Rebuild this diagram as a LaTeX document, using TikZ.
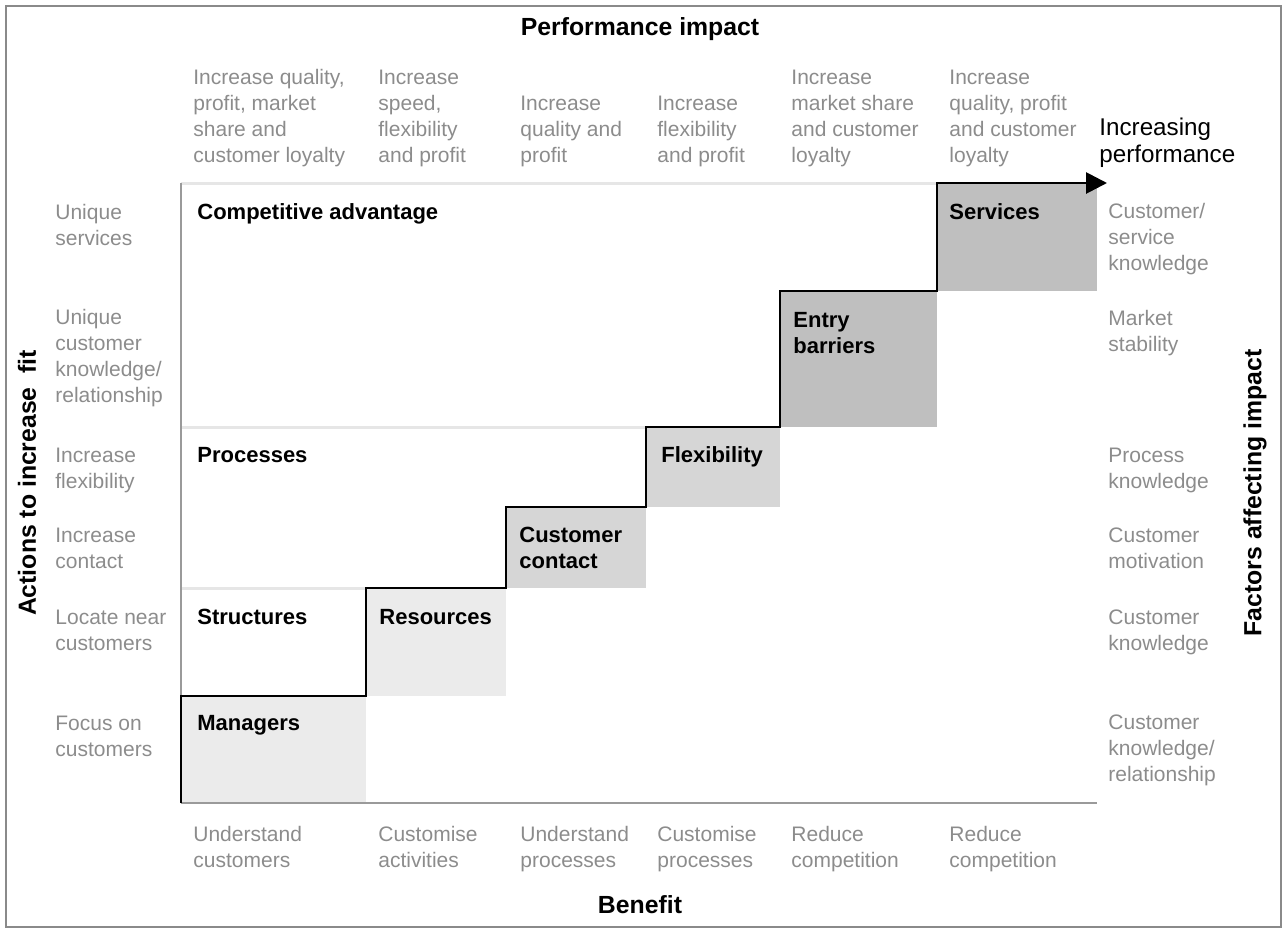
\documentclass[tikz,border=0pt]{standalone}
\usepackage{fontspec}
\setmainfont{Liberation Sans}
\usetikzlibrary{positioning}
\usetikzlibrary{arrows.meta}

\definecolor{labelgray}{HTML}{8C8C8C}
\definecolor{axisgray}{HTML}{9A9A9A}
\definecolor{framegray}{HTML}{8A8A8A}
\definecolor{sepgray}{HTML}{E6E6E6}
\definecolor{stepdark}{HTML}{BFBFBF}
\definecolor{stepmid}{HTML}{D6D6D6}
\definecolor{steplight}{HTML}{EBEBEB}

\tikzset{
	graytext/.style={anchor=base west,align=left,inner sep=0pt,text=labelgray,font=\fontsize{10.5}{12.85}\selectfont},
	boldtext/.style={anchor=base west,align=left,inner sep=0pt,font=\fontsize{11}{12.85}\selectfont\bfseries},
	titletext/.style={inner sep=0pt,font=\fontsize{12.4}{15}\selectfont\bfseries},
}

\begin{document}
\begin{tikzpicture}[x=0.5pt,y=-0.5pt]
		\useasboundingbox (0,0) rectangle (1284,932);
		\draw [framegray,line width=1pt] (6,6) rectangle (1281,927);
		% shaded steps
		\fill [steplight] (181,696) rectangle (366,802);
		\fill [steplight] (366,588) rectangle (506,696);
		\fill [stepmid] (506,507) rectangle (646,588);
		\fill [stepmid] (646,427) rectangle (780,507);
		\fill [stepdark] (780,291) rectangle (937,427);
		\fill [stepdark] (937,183) rectangle (1097,291);
		% separators and axes
		\draw [sepgray,line width=1.5pt] (181,183) -- (937,183);
		\draw [sepgray,line width=1.5pt] (181,427) -- (646,427);
		\draw [sepgray,line width=1.5pt] (181,588) -- (366,588);
		\draw [axisgray,line width=1pt] (181,183) -- (181,696);
		\draw [axisgray,line width=1.2pt] (181,803) -- (1097,803);
		\coordinate (stairend) at (1107,183);
		\draw [line width=1.4pt,-{Triangle[length=10.5pt,width=10.5pt]}] (181,803) |- (366,696) |- (506,588) |- (646,507) |- (780,427) |- (937,291) |- (stairend);

		\node (perfimpact) [titletext] at (640,29) {Performance impact};
		\node (benefit) [titletext] at (640,905) {Benefit};
		\node (actions) [titletext,rotate=90] at (27,483) {Actions to increase\ \ fit};
		\node (factors) [titletext,rotate=90] at (1255,493) {Factors affecting impact};
		\node (incperf) [anchor=base west,align=left,inner sep=0pt,font=\fontsize{12.1}{13.5}\selectfont] at (1099,162) {Increasing\\performance};

		% performance impact
		\node (ptop1) [graytext] at (193,162) {Increase quality,\\profit, market\\share and\\customer loyalty};
		\node (ptop2) [graytext] at (378,162) {Increase\\speed,\\flexibility\\and profit};
		\node (ptop3) [graytext] at (520,162) {Increase\\quality and\\profit};
		\node (ptop4) [graytext] at (657,162) {Increase\\flexibility\\and profit};
		\node (ptop5) [graytext] at (791,162) {Increase\\market share\\and customer\\loyalty};
		\node (ptop6) [graytext] at (949,162) {Increase\\quality, profit\\and customer\\loyalty};

		% benefit
		\node (btm1) [graytext] at (193,867) {Understand\\customers};
		\node (btm2) [graytext] at (378,867) {Customise\\activities};
		\node (btm3) [graytext] at (520,867) {Understand\\processes};
		\node (btm4) [graytext] at (657,867) {Customise\\processes};
		\node (btm5) [graytext] at (791,867) {Reduce\\competition};
		\node (btm6) [graytext] at (949,867) {Reduce\\competition};

		% actions
		\node (act1) [graytext] at (55,245) {Unique\\services};
		\node (act2) [graytext] at (55,402) {Unique\\customer\\knowledge/\\relationship};
		\node (act3) [graytext] at (55,488) {Increase\\flexibility};
		\node (act4) [graytext] at (55,568) {Increase\\contact};
		\node (act5) [graytext] at (55,650) {Locate near\\customers};
		\node (act6) [graytext] at (55,756) {Focus on\\customers};

		% factors
		\node (fac1) [graytext] at (1108,270) {Customer/\\service\\knowledge};
		\node (fac2) [graytext] at (1108,351) {Market\\stability};
		\node (fac3) [graytext] at (1108,488) {Process\\knowledge};
		\node (fac4) [graytext] at (1108,568) {Customer\\motivation};
		\node (fac5) [graytext] at (1108,650) {Customer\\knowledge};
		\node (fac6) [graytext] at (1108,781) {Customer\\knowledge/\\relationship};

		% step labels
		\node (compadv) [boldtext] at (197,219) {Competitive advantage};
		\node (services) [boldtext] at (949,219) {Services};
		\node (entry) [boldtext] at (793,353) {Entry\\barriers};
		\node (processes) [boldtext] at (197,462) {Processes};
		\node (flexibility) [boldtext] at (661,462) {Flexibility};
		\node (custcontact) [boldtext] at (519,568) {Customer\\contact};
		\node (structures) [boldtext] at (197,624) {Structures};
		\node (resources) [boldtext] at (379,624) {Resources};
		\node (managers) [boldtext] at (197,730) {Managers};
	\end{tikzpicture}
\end{document}
